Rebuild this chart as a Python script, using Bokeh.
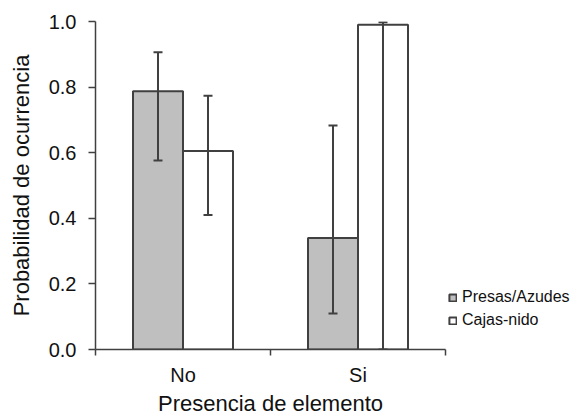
from bokeh.plotting import figure
from bokeh.models import (ColumnDataSource, Range1d, FixedTicker, Whisker, TeeHead,
                          Legend, LegendItem)
from bokeh.transform import dodge
from bokeh.embed import file_html
from bokeh.resources import INLINE

categories = ["No", "Si"]
series = ["Presas/Azudes", "Cajas-nido"]
presas = [0.787, 0.340]
presas_low = [0.576, 0.110]
presas_high = [0.906, 0.683]
cajas = [0.605, 0.990]
cajas_low = [0.410, 0.000]
cajas_high = [0.774, 0.998]
y_ticks = [0.0, 0.2, 0.4, 0.6, 0.8, 1.0]

FONT = "Liberation Sans"
LINE = "#404040"
GRAY = "#bfbfbf"
BW = 0.2857

xc = [i + 0.5 for i in range(len(categories))]
src = ColumnDataSource(dict(x=xc, presas=presas, plo=presas_low, phi=presas_high,
                            cajas=cajas, clo=cajas_low, chi=cajas_high))

p = figure(frame_width=350, frame_height=328, output_backend="svg", toolbar_location=None,
           x_range=Range1d(0, len(categories)), y_range=Range1d(0, 1.0),
           min_border_left=95, min_border_right=129, min_border_top=21,
           min_border_bottom=64)
p.outline_line_color = None
p.grid.grid_line_color = None
p.background_fill_color = "white"

r1 = p.vbar(x=dodge("x", -BW / 2, range=p.x_range), top="presas", width=BW, source=src,
            fill_color=GRAY, line_color=LINE, line_width=2)
r2 = p.vbar(x=dodge("x", BW / 2, range=p.x_range), top="cajas", width=BW, source=src,
            fill_color="white", line_color=LINE, line_width=2)

for off, lo, hi in [(-BW / 2, "plo", "phi"), (BW / 2, "clo", "chi")]:
    w = Whisker(base=dodge("x", off, range=p.x_range), lower=lo, upper=hi, source=src,
                line_color=LINE, line_width=2, level="overlay",
                upper_head=TeeHead(size=9, line_color=LINE, line_width=2),
                lower_head=TeeHead(size=9, line_color=LINE, line_width=2))
    p.add_layout(w)

# x axis: labels at category centres, ticks at boundaries
xa = p.xaxis[0]
xa.ticker = FixedTicker(ticks=xc, minor_ticks=list(range(len(categories) + 1)))
xa.major_label_overrides = {x: c for x, c in zip(xc, categories)}
xa.major_tick_line_color = None
xa.minor_tick_line_color = LINE
xa.minor_tick_line_width = 1.5
xa.minor_tick_out = 6
xa.minor_tick_in = 0
xa.axis_line_color = LINE
xa.axis_line_width = 1.5
xa.major_label_text_font = FONT
xa.major_label_text_font_size = "20px"
xa.major_label_text_color = "#111111"
xa.major_label_standoff = 8
xa.axis_label = "Presencia de elemento"
xa.axis_label_text_font = FONT
xa.axis_label_text_font_size = "22px"
xa.axis_label_text_font_style = "normal"
xa.axis_label_text_color = "#111111"
xa.axis_label_standoff = 2

ya = p.yaxis[0]
ya.ticker = FixedTicker(ticks=y_ticks, minor_ticks=[])
ya.major_label_overrides = {t: f"{t:.1f}" for t in y_ticks}
ya.major_tick_line_color = LINE
ya.major_tick_line_width = 1.5
ya.major_tick_out = 7
ya.major_tick_in = 0
ya.axis_line_color = LINE
ya.axis_line_width = 1.5
ya.major_label_text_font = FONT
ya.major_label_text_font_size = "20px"
ya.major_label_text_color = "#111111"
ya.major_label_standoff = 12
ya.axis_label = "Probabilidad de ocurrencia"
ya.axis_label_text_font = FONT
ya.axis_label_text_font_size = "22px"
ya.axis_label_text_font_style = "normal"
ya.axis_label_text_color = "#111111"
ya.axis_label_standoff = 12

legend = Legend(items=[LegendItem(label=series[0], renderers=[r1]),
                       LegendItem(label=series[1], renderers=[r2])],
                location=(3, 19), padding=0, margin=0, spacing=3,
                glyph_width=9, glyph_height=9, label_height=20,
                label_standoff=5, label_text_font=FONT,
                label_text_font_size="16px", label_text_color="#111111",
                border_line_color=None, background_fill_alpha=0)
p.add_layout(legend, "right")

open("out.html", "w").write(file_html(p, INLINE))
